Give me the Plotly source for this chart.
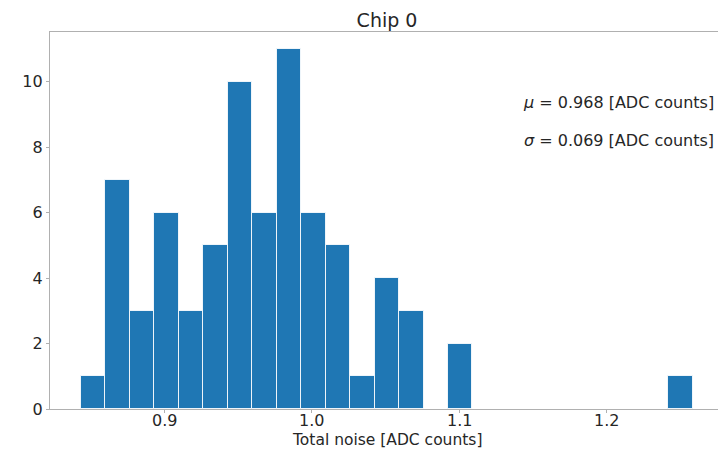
import numpy as np
import plotly.graph_objects as go

# Histogram of total noise per channel: 25 equal bins between the min and max value
noise_min = 0.8435
noise_max = 1.2583
n_bins = 25
counts = [1, 7, 3, 6, 3, 5, 10, 6, 11, 6, 5, 1, 4, 3, 0, 2,
          0, 0, 0, 0, 0, 0, 0, 0, 1]
x_ticks = [0.9, 1.0, 1.1, 1.2]
y_ticks = [0, 2, 4, 6, 8, 10]
mean_noise = 0.968
std_noise = 0.069

edges = np.linspace(noise_min, noise_max, n_bins + 1)
centers = 0.5 * (edges[:-1] + edges[1:])
width = edges[1] - edges[0]

text_color = "#262626"
spine_color = "#b0b0b0"
font_family = "DejaVu Sans"

W, H = 718, 449
L, R, T, B = 50, 0, 32, 40
plot_w = W - L - R
plot_h = H - T - B


def px_to_paper(x_px, y_px):
    """Convert figure pixel coordinates to plot-area paper coordinates."""
    return (x_px - L) / plot_w, (H - B - y_px) / plot_h


fig = go.Figure(
    go.Bar(
        x=centers,
        y=counts,
        width=width,
        marker=dict(color="#1f77b4", line=dict(color="rgba(255,255,255,0.85)", width=1)),
        hoverinfo="x+y",
    )
)

fig.update_layout(
    width=W,
    height=H,
    margin=dict(l=L, r=R, t=T, b=B),
    paper_bgcolor="white",
    plot_bgcolor="white",
    showlegend=False,
    bargap=0,
    font=dict(family=font_family, color=text_color, size=16),
    title=dict(
        text="Chip 0",
        x=387 / W,
        xanchor="center",
        y=1 - 20 / H,
        yanchor="middle",
        font=dict(size=19, color=text_color, family=font_family),
    ),
    xaxis=dict(
        range=[0.8225, 1.2755],
        tickvals=x_ticks,
        showticklabels=False,
        showgrid=False,
        zeroline=False,
        showline=True,
        linecolor=spine_color,
        linewidth=1.2,
        mirror=True,
        ticks="outside",
        ticklen=3,
        tickcolor=spine_color,
    ),
    yaxis=dict(
        range=[0, 11.52],
        tickvals=y_ticks,
        showgrid=False,
        zeroline=False,
        showline=True,
        linecolor=spine_color,
        linewidth=1.2,
        ticks="outside",
        ticklen=3,
        tickcolor=spine_color,
        tickfont=dict(size=16, color=text_color),
    ),
)

# x tick labels, placed on the x scale just under the axis
_, tick_label_y = px_to_paper(0, 420.5)
for xv in x_ticks:
    fig.add_annotation(
        text=f"{xv:.1f}",
        xref="x", yref="paper",
        x=xv, y=tick_label_y,
        xanchor="center", yanchor="middle",
        borderpad=0,
        showarrow=False,
        font=dict(size=16, color=text_color, family=font_family),
    )

# x-axis title
tx, ty = px_to_paper(387, 440)
fig.add_annotation(
    text="Total noise [ADC counts]",
    xref="paper", yref="paper",
    x=tx, y=ty,
    xanchor="center", yanchor="middle",
    borderpad=0,
    showarrow=False,
    font=dict(size=15.5, color=text_color, family=font_family),
)

for label, y_px in [
    (f"<i>μ</i> = {mean_noise:.3f} [ADC counts]", 103),
    (f"<i>σ</i> = {std_noise:.3f} [ADC counts]", 140),
]:
    ax, ay = px_to_paper(716, y_px)
    fig.add_annotation(
        text=label,
        xref="paper", yref="paper",
        x=ax, y=ay,
        xanchor="right", yanchor="middle",
        showarrow=False,
        font=dict(size=16, color=text_color, family=font_family),
    )

fig.write_html("out.html")
